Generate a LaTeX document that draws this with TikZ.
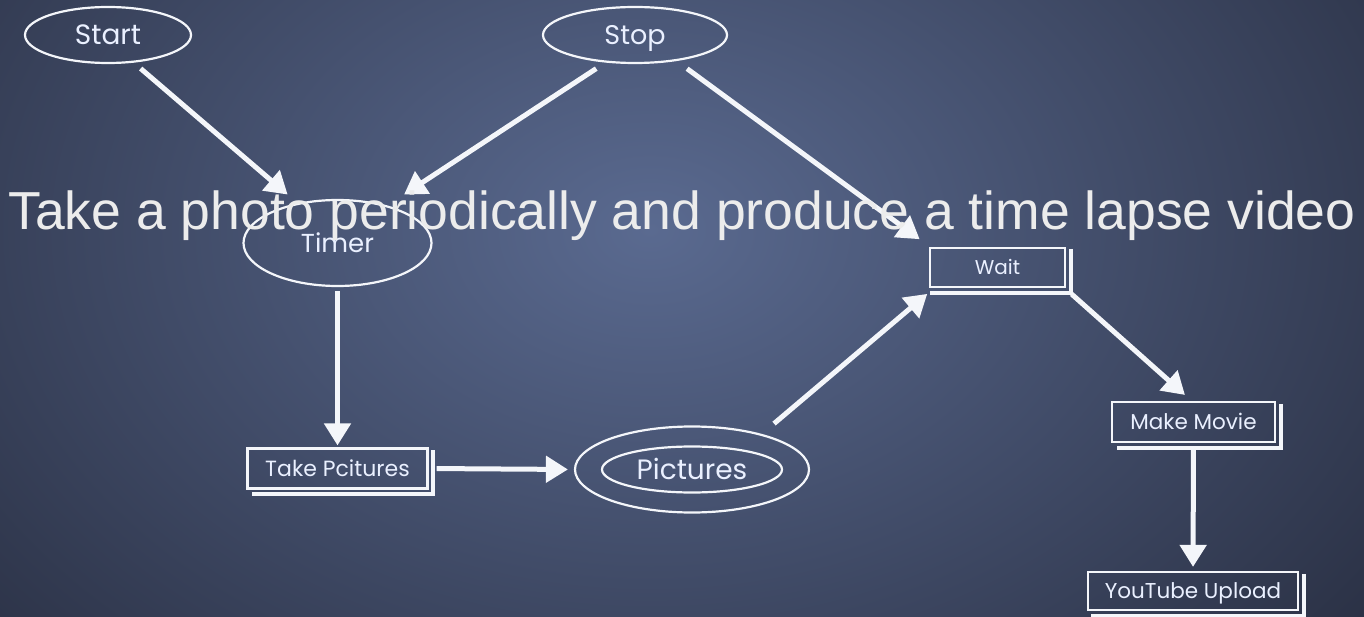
\documentclass[tikz,border=0pt]{standalone}
\usepackage{fontspec}
\setmainfont{Poppins}
\newfontfamily\titlefont{Liberation Sans}
\usetikzlibrary{arrows.meta,shapes.geometric}
\definecolor{bgin}{HTML}{5A6A90}
\definecolor{bgout}{HTML}{1E2231}
\definecolor{ink}{HTML}{F4F6FA}
\definecolor{lbl}{HTML}{EAF0FF}
\definecolor{titlec}{HTML}{ECECEC}
\begin{document}
\begin{tikzpicture}[x=1pt,y=-1pt,
  oval/.style={ellipse, draw=ink, line width=2.2pt, inner sep=0pt, text=lbl, text depth=0pt},
  box/.style={rectangle, draw=ink, line width=2.2pt, inner sep=0pt, text=lbl, text depth=0pt},
  shadowline/.style={draw=ink, line width=3.8pt},
  conn/.style={draw=ink, line width=5pt, -{Triangle[length=22pt,width=26pt]}},
  fs/.style 2 args={font=\fontsize{#1}{#1}\selectfont, text height=#2}
]
\useasboundingbox (0,0) rectangle (1364,617);
\begin{scope}
\clip (0,0) rectangle (1364,617);
\shade[inner color=bgin, outer color=bgout] (650,230) ellipse [x radius=1150, y radius=820];
\end{scope}

\node[oval, minimum width=166pt, minimum height=56pt, fs={28}{19.6pt}] (start) at (108,35) {Start};
\node[oval, minimum width=184pt, minimum height=56pt, fs={27}{18.9pt}] (stop) at (635,35) {Stop};
\node[oval, minimum width=188pt, minimum height=86pt, fs={26}{18.2pt}] (timer) at (337.5,243) {Timer};
\node[box, minimum width=135pt, minimum height=39pt, fs={20}{14pt}] (wait) at (997.5,267.5) {Wait};
\node[box, minimum width=163pt, minimum height=40pt, fs={21.5}{15pt}] (movie) at (1193.5,422) {Make Movie};
\node[box, minimum width=210pt, minimum height=38pt, fs={21.5}{15pt}] (yt) at (1193,591) {YouTube Upload};
\node[box, minimum width=180pt, minimum height=40pt, fs={22}{15.4pt}] (take) at (337.5,468.5) {Take Pcitures};
\node[oval, minimum width=234pt, minimum height=86pt, fs={28}{19.6pt}] (pics) at (692,469.5) {Pictures};
\node[oval, minimum width=180pt, minimum height=46pt] (picsin) at (pics.center) {};

% hand-drawn double edges
\draw[shadowline] ([xshift=5pt,yshift=-2pt]wait.north east) -- ([xshift=5pt,yshift=-5pt]wait.south east) -- ([xshift=1pt,yshift=-5pt]wait.south west);
\draw[shadowline] ([xshift=5pt,yshift=-3pt]movie.north east) -- ([xshift=5pt,yshift=-5pt]movie.south east) -- ([xshift=6pt,yshift=-5pt]movie.south west);
\draw[shadowline] ([xshift=5pt,yshift=-3pt]yt.north east) -- ([xshift=5pt,yshift=-5pt]yt.south east) -- ([xshift=4pt,yshift=-5pt]yt.south west);
\draw[shadowline] ([xshift=4pt,yshift=-3pt]take.north east) -- ([xshift=4pt,yshift=-4pt]take.south east) -- ([xshift=6pt,yshift=-4pt]take.south west);

% connectors
\draw[conn, shorten <=9pt, shorten >=13pt] (start.-47) -- (timer.135);
\draw[conn, shorten <=11pt, shorten >=20pt] (stop.-137) -- (timer.37);
\draw[conn, shorten <=13pt, shorten >=13pt] (stop.-32) -- (wait.163);
\draw[conn, shorten <=4pt, shorten >=2pt] (timer.south) -- (take.north);
\draw[conn, shorten <=8pt, shorten >=6pt] (take.east) -- (pics.west);
\draw[conn, shorten <=16pt, shorten >=9pt] (pics.27) -- (wait.198);
\draw[conn, shorten <=9pt, shorten >=9pt] (wait.-17) -- (movie.95);
\draw[conn, shorten <=6pt, shorten >=4pt] (movie.south) -- (yt.north);

\node[font=\titlefont\fontsize{53.5}{53.5}\selectfont, text=titlec, anchor=base, inner sep=0pt] (title) at (682,230) {Take a photo periodically and produce a time lapse video};
\end{tikzpicture}
\end{document}
